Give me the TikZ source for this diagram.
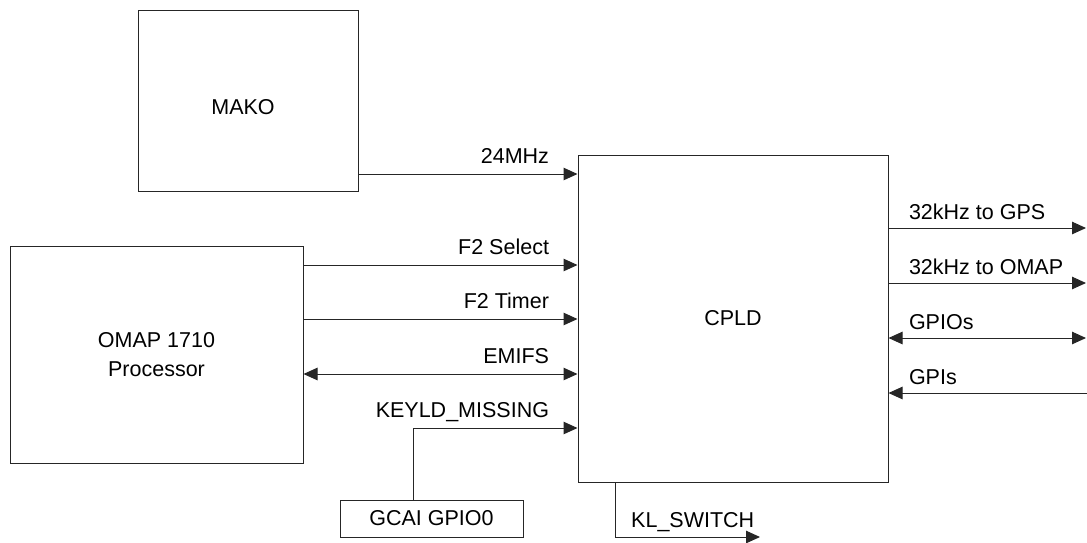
\documentclass[tikz,border=0pt]{standalone}
\usepackage{fontspec}
\setmainfont{Liberation Sans}
\usetikzlibrary{arrows.meta,calc}

%Styles for blocks, signals and their labels
\tikzset{
  blk/.style={draw=black!85, line width=1pt, inner sep=0pt},
  sig/.style={draw=black!85, line width=1pt, -{Triangle[length=14pt,width=12.5pt]}},
  bisig/.style={sig, {Triangle[length=14pt,width=12.5pt]}-{Triangle[length=14pt,width=12.5pt]}},
  lbl/.style={inner sep=0pt},
  inlbl/.style={lbl, pos=1, anchor=base east, xshift=-28pt, yshift=10.5pt},
  outlbl/.style={lbl, pos=0, anchor=base west, xshift=20pt, yshift=9pt},
}

\begin{document}
\begin{tikzpicture}[x=1pt,y=-1pt,font=\fontsize{21.5}{25}\selectfont]
\useasboundingbox (0,0) rectangle (1087,542);

%Blocks
\node[blk, minimum width=220pt, minimum height=181pt] (mako) at (248,100.5) {};
\node (makotxt) at (243,107) {MAKO};
\node[blk, minimum width=310pt, minimum height=327pt] (cpld) at (733,318.5) {CPLD};
\node[blk, minimum width=293pt, minimum height=217pt, align=center] (omap) at (156.5,354.5) {OMAP 1710\\[4pt]Processor};
\node[blk, minimum width=183pt, minimum height=37pt] (gcai) at (431.5,518.5) {GCAI GPIO0};

%Free ends
\coordinate (gpsR) at (1086,228);
\coordinate (omapR) at (1086,283);
\coordinate (gpioR) at (1086,338);
\coordinate (gpiR) at (1087,393);
\coordinate (klEnd) at (760,537);

%Inputs of the CPLD
\draw[sig] (mako.east |- 0,174) -- (cpld.west |- 0,174) node[inlbl] {24MHz};
\draw[sig] (omap.east |- 0,265) -- (cpld.west |- 0,265) node[inlbl] {F2 Select};
\draw[sig] (omap.east |- 0,319) -- (cpld.west |- 0,319) node[inlbl] {F2 Timer};
\draw[bisig] (omap.east |- 0,374) -- (cpld.west |- 0,374) node[inlbl] {EMIFS};
\draw[sig] (gcai.north -| 413,0) |- (cpld.west |- 0,428) node[inlbl] {KEYLD\_MISSING};

%Outputs of the CPLD
\draw[sig] (cpld.east |- gpsR) -- (gpsR) node[outlbl] {32kHz to GPS};
\draw[sig] (cpld.east |- omapR) -- (omapR) node[outlbl] {32kHz to OMAP};
\draw[bisig] (cpld.east |- gpioR) -- (gpioR) node[outlbl] {GPIOs};
\draw[sig] (gpiR) -- (cpld.east |- gpiR) node[lbl, pos=1, anchor=base west, xshift=20pt, yshift=9pt] {GPIs};

%KL switch
\draw[sig] (cpld.south -| 615,0) |- (klEnd);
\node[lbl, anchor=base west] (kl) at (631,527) {KL\_SWITCH};

\end{tikzpicture}
\end{document}
